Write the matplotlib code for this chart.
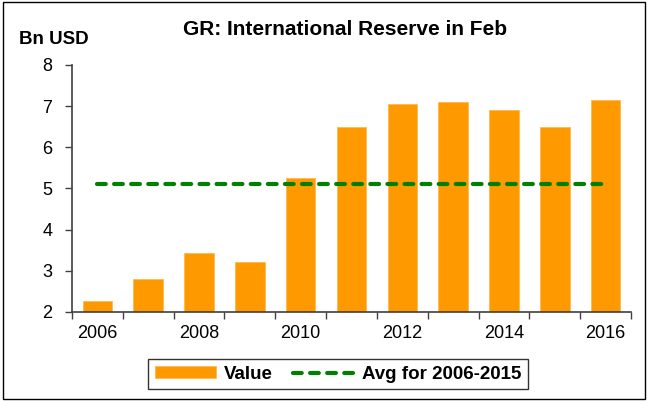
import numpy as np
import matplotlib
matplotlib.use('Agg')
import matplotlib.pyplot as plt
from matplotlib.patches import Rectangle

plt.rcParams['font.family'] = ['Liberation Sans', 'DejaVu Sans']

# Data
years = [2006, 2007, 2008, 2009, 2010, 2011, 2012, 2013, 2014, 2015, 2016]
values = [2.27, 2.80, 3.43, 3.21, 5.25, 6.49, 7.05, 7.10, 6.91, 6.49, 7.15]
avg_value = 5.1
tick_years = [2006, 2008, 2010, 2012, 2014, 2016]

fig = plt.figure(figsize=(6.48, 4.01), dpi=100)
ax = fig.add_axes([0.111, 0.222, 0.863, 0.616])

x = np.arange(len(years))
bars = ax.bar(x, values, width=0.58, color='#FF9900', edgecolor='#FFB84D', linewidth=0.6,
              label='Value', zorder=2)
avg_line, = ax.plot(x, [avg_value] * len(years), color='#008000', lw=3.0,
                    linestyle=(0, (2.1, 2.0)), dash_capstyle='round',
                    label='Avg for 2006-2015', zorder=3)

ax.set_xlim(-0.5, len(years) - 0.5)
ax.set_ylim(2, 8)
ax.set_yticks(range(2, 9))

# x ticks at category boundaries, labels every other year
ax.set_xticks(np.arange(len(years) + 1) - 0.5)
ax.set_xticklabels([])
ax.set_xticks([years.index(y) for y in tick_years], minor=True)
ax.set_xticklabels([str(y) for y in tick_years], minor=True)
ax.tick_params(axis='x', which='minor', length=0, pad=9.5, labelsize=13)
ax.tick_params(axis='x', which='major', length=5, width=1, color='#404040')
ax.tick_params(axis='y', length=5, width=1, color='#404040', labelsize=13, pad=9)

for s in ['top', 'right']:
    ax.spines[s].set_visible(False)
for s in ['left', 'bottom']:
    ax.spines[s].set_color('#404040')
    ax.spines[s].set_linewidth(1.2)

fig.text(0.532, 0.926, 'GR: International Reserve in Feb', ha='center', va='center',
         fontsize=15, fontweight='bold')
fig.text(0.029, 0.901, 'Bn USD', ha='left', va='center', fontsize=13.5, fontweight='bold')

leg = fig.legend([bars, avg_line], ['Value', 'Avg for 2006-2015'],
                 loc='center', bbox_to_anchor=(0.522, 0.067), ncol=2, frameon=True,
                 fancybox=False, edgecolor='black', prop={'weight': 'bold', 'size': 13.5},
                 handlelength=3.25, handleheight=0.53, columnspacing=1.05, handletextpad=0.45,
                 borderpad=0.35, borderaxespad=0)
leg.get_frame().set_linewidth(1.0)

fig.patches.append(Rectangle((0.004, 0.005), 0.992, 0.99, transform=fig.transFigure,
                             fill=False, edgecolor='black', linewidth=1.0))

fig.savefig('out.png', dpi=100)
